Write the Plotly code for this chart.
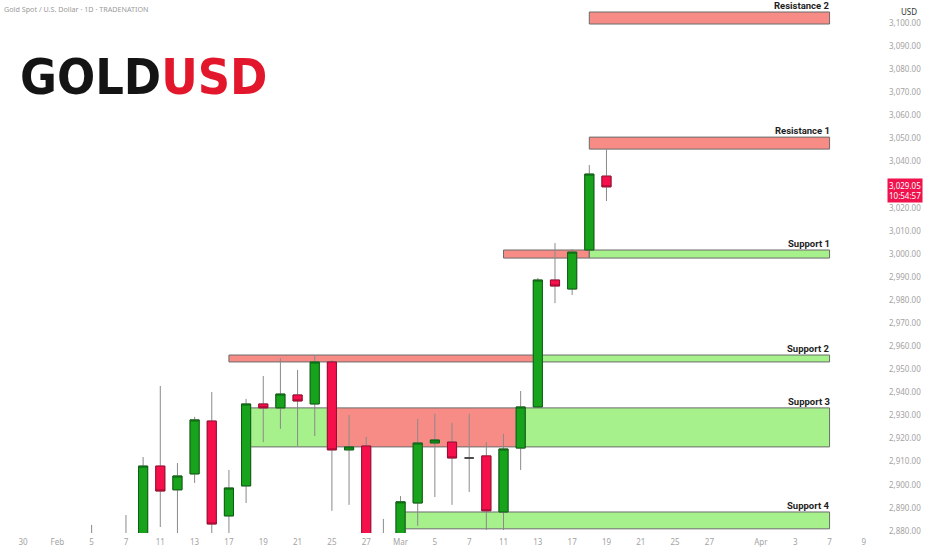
import plotly.graph_objects as go

# ---------------- data ----------------
# trading calendar shown on the time axis
trading_days = [
    "2025-01-30", "2025-01-31", "2025-02-03", "2025-02-04", "2025-02-05", "2025-02-06",
    "2025-02-07", "2025-02-10", "2025-02-11", "2025-02-12", "2025-02-13", "2025-02-14",
    "2025-02-17", "2025-02-18", "2025-02-19", "2025-02-20", "2025-02-21", "2025-02-24",
    "2025-02-25", "2025-02-26", "2025-02-27", "2025-02-28", "2025-03-03", "2025-03-04",
    "2025-03-05", "2025-03-06", "2025-03-07", "2025-03-10", "2025-03-11", "2025-03-12",
    "2025-03-13", "2025-03-14", "2025-03-17", "2025-03-18", "2025-03-19", "2025-03-20",
    "2025-03-21", "2025-03-24", "2025-03-25", "2025-03-26", "2025-03-27", "2025-03-28",
    "2025-03-31", "2025-04-01", "2025-04-02", "2025-04-03", "2025-04-04", "2025-04-07",
    "2025-04-08", "2025-04-09",
]

candle_dates = [
    "2025-02-05", "2025-02-06", "2025-02-07", "2025-02-10", "2025-02-11", "2025-02-12",
    "2025-02-13", "2025-02-14", "2025-02-17", "2025-02-18", "2025-02-19", "2025-02-20",
    "2025-02-21", "2025-02-24", "2025-02-25", "2025-02-26", "2025-02-27", "2025-02-28",
    "2025-03-03", "2025-03-04", "2025-03-05", "2025-03-06", "2025-03-07", "2025-03-10",
    "2025-03-11", "2025-03-12", "2025-03-13", "2025-03-14", "2025-03-17", "2025-03-18",
    "2025-03-19",
]
open_ = [2867.0, 2866.0, 2856.0, 2861.0, 2908.1, 2897.8, 2904.7, 2927.6, 2886.5, 2899.5,
         2935.0, 2933.3, 2938.9, 2935.0, 2953.2, 2915.1, 2916.8, 2876.0, 2858.0, 2892.1,
         2918.1, 2918.5, 2911.6, 2912.5, 2888.2, 2915.9, 2933.7, 2988.7, 2984.8, 3001.7,
         3033.7]
high = [2882.6, 2873.0, 2886.9, 2912.0, 2942.8, 2909.4, 2929.4, 2940.2, 2906.4, 2937.2,
        2947.1, 2954.9, 2949.7, 2956.2, 2954.0, 2930.2, 2920.7, 2885.2, 2895.1, 2928.5,
        2930.7, 2926.8, 2930.7, 2918.5, 2922.0, 2940.6, 2989.6, 3004.7, 3002.1, 3038.5,
        3045.4]
low = [2853.0, 2852.0, 2853.0, 2858.0, 2881.7, 2865.0, 2900.8, 2875.0, 2877.0, 2892.1,
       2918.5, 2924.2, 2916.8, 2921.1, 2888.7, 2891.3, 2870.0, 2832.0, 2854.0, 2882.2,
       2894.7, 2891.3, 2896.9, 2880.4, 2880.4, 2906.4, 2933.3, 2978.7, 2982.2, 3001.7,
       3022.9]
close = [2866.0, 2856.0, 2861.0, 2908.1, 2897.3, 2903.8, 2928.1, 2883.0, 2898.6, 2935.0,
         2933.3, 2939.3, 2936.3, 2953.2, 2915.1, 2916.4, 2875.0, 2858.0, 2892.6, 2918.1,
         2919.4, 2911.6, 2911.6, 2888.7, 2915.5, 2933.7, 2988.7, 2986.1, 3000.8, 3034.6,
         3029.05]

# key zones
zone_names = ["Resistance 2", "Resistance 1", "Support 1", "Support 2", "Support 3", "Support 4"]
zone_low = [3099.6, 3045.4, 2998.2, 2953.2, 2916.4, 2880.9]
zone_high = [3104.8, 3050.6, 3001.7, 2956.2, 2933.3, 2888.2]
# zone segments: zone, start, end, role
seg_zone = ["Resistance 2", "Resistance 1", "Support 1", "Support 1", "Support 2", "Support 2",
            "Support 3", "Support 3", "Support 3", "Support 4"]
seg_start = ["2025-03-18", "2025-03-18", "2025-03-11", "2025-03-18", "2025-02-17", "2025-03-13",
             "2025-02-18", "2025-02-25", "2025-03-12", "2025-03-03"]
seg_end = ["2025-04-07", "2025-04-07", "2025-03-18", "2025-04-07", "2025-03-13", "2025-04-07",
           "2025-02-25", "2025-03-12", "2025-04-07", "2025-04-07"]
seg_role = ["res", "res", "res", "sup", "res", "sup", "sup", "res", "sup", "sup"]

tick_dates = ["2025-01-30", "2025-02-03", "2025-02-05", "2025-02-07", "2025-02-11", "2025-02-13",
              "2025-02-17", "2025-02-19", "2025-02-21", "2025-02-25", "2025-02-27", "2025-03-03",
              "2025-03-05", "2025-03-07", "2025-03-11", "2025-03-13", "2025-03-17", "2025-03-19",
              "2025-03-21", "2025-03-25", "2025-03-27", "2025-04-01", "2025-04-03", "2025-04-07",
              "2025-04-09"]
tick_text = ["30", "Feb", "5", "7", "11", "13", "17", "19", "21", "25", "27", "Mar",
             "5", "7", "11", "13", "17", "19", "21", "25", "27", "Apr", "3", "7", "9"]

price_ticks = [p for p in range(2880, 3101, 10) if p != 3030]
last_price = 3029.05
countdown = "10:54:57"

# ---------------- styling ----------------
GREEN = "#17a31c"
GREEN_EDGE = "#0d5e12"
RED = "#f5104b"
RED_EDGE = "#9e0a30"
WICK = "#8a8a8a"
ZONE_RED = "rgba(244,120,112,0.85)"
ZONE_GREEN = "rgba(150,238,120,0.85)"
ZONE_EDGE = "#6b6b6b"
AXIS_TXT = "#a3a3a3"

pos = {d: i for i, d in enumerate(trading_days)}
xs = [pos[d] for d in candle_dates]

fig = go.Figure()

# wicks (grey) - full candles with grey outline
fig.add_trace(go.Candlestick(
    x=xs, open=open_, high=high, low=low, close=close,
    increasing=dict(line=dict(color=WICK, width=1), fillcolor=GREEN),
    decreasing=dict(line=dict(color=WICK, width=1), fillcolor=RED),
    whiskerwidth=0, hoverinfo="skip", showlegend=False,
))

# bodies with darker borders
reg = [i for i in range(len(xs)) if open_[i] != close[i]]
doji = [i for i in range(len(xs)) if open_[i] == close[i]]
fig.add_trace(go.Candlestick(
    x=[xs[i] for i in reg], open=[open_[i] for i in reg], close=[close[i] for i in reg],
    high=[max(open_[i], close[i]) for i in reg], low=[min(open_[i], close[i]) for i in reg],
    increasing=dict(line=dict(color=GREEN_EDGE, width=1), fillcolor=GREEN),
    decreasing=dict(line=dict(color=RED_EDGE, width=1), fillcolor=RED),
    whiskerwidth=0, hoverinfo="skip", showlegend=False,
))
if doji:
    fig.add_trace(go.Candlestick(
        x=[xs[i] for i in doji], open=[open_[i] for i in doji], close=[close[i] for i in doji],
        high=[open_[i] for i in doji], low=[open_[i] for i in doji],
        increasing=dict(line=dict(color="#333333", width=1.5), fillcolor="#333333"),
        decreasing=dict(line=dict(color="#333333", width=1.5), fillcolor="#333333"),
        whiskerwidth=0, hoverinfo="skip", showlegend=False,
    ))

shapes = []
zlo = dict(zip(zone_names, zone_low))
zhi = dict(zip(zone_names, zone_high))
for z, s, e, r in zip(seg_zone, seg_start, seg_end, seg_role):
    shapes.append(dict(
        type="rect", xref="x", yref="y", x0=pos[s], x1=pos[e], y0=zlo[z], y1=zhi[z],
        fillcolor=ZONE_RED if r == "res" else ZONE_GREEN,
        line=dict(color=ZONE_EDGE, width=1), layer="below",
    ))

annotations = []
for z in zone_names:
    end = max(pos[e] for zz, e in zip(seg_zone, seg_end) if zz == z)
    annotations.append(dict(
        x=end, y=zhi[z], xref="x", yref="y", xanchor="right", yanchor="bottom",
        text=f"<b>{z}</b>", showarrow=False, yshift=-1, xshift=2,
        font=dict(family="Roboto, Arial", size=9.5, color="#1e1e1e"),
    ))

# logo
annotations.append(dict(
    x=0, y=1, xref="paper", yref="paper", xanchor="left", yanchor="middle",
    xshift=18, yshift=-77, showarrow=False,
    text="<b><span style='color:#141414'>GOLD</span><span style='color:#e3172c'>USD</span></b>",
    font=dict(family="DejaVu Sans Condensed, Roboto Condensed, Roboto, sans-serif",
              size=50, color="#141414"),
))
# header
annotations.append(dict(
    x=0, y=1, xref="paper", yref="paper", xanchor="left", yanchor="top",
    xshift=2, yshift=-2, showarrow=False,
    text="Gold Spot / U.S. Dollar · 1D · TRADENATION",
    font=dict(family="Noto Sans", size=7.2, color="#9a9a9a"),
))
# currency label
annotations.append(dict(
    x=1, y=1, xref="paper", yref="paper", xanchor="left", yanchor="top",
    xshift=14, yshift=-4, showarrow=False, text="USD",
    font=dict(family="Noto Sans", size=8, color="#333333"),
))
# last price tag
annotations.append(dict(
    x=1, y=last_price, xref="paper", yref="y", xanchor="left", yanchor="middle",
    xshift=2, yshift=-4, showarrow=False,
    text=f"{last_price:,.2f}<br>{countdown}",
    font=dict(family="Noto Sans", size=8, color="white"),
    bgcolor="#f0124c", borderpad=1, align="center",
))

fig.update_layout(
    width=932, height=550,
    margin=dict(l=0, r=47, t=0, b=17),
    paper_bgcolor="white", plot_bgcolor="white",
    showlegend=False,
    boxgap=0.24,
    shapes=shapes, annotations=annotations,
    xaxis=dict(
        range=[-1.34, 50.23], showgrid=False, zeroline=False, showline=False,
        rangeslider=dict(visible=False),
        tickmode="array", tickvals=[pos[d] for d in tick_dates], ticktext=tick_text,
        ticks="", ticklabelstandoff=3,
        tickfont=dict(family="Noto Sans", size=8, color=AXIS_TXT),
    ),
    yaxis=dict(
        side="right", range=[2879.1, 3110.0], showgrid=False, zeroline=False, showline=False,
        tickmode="array", tickvals=price_ticks, tickformat=",.2f",
        ticks="", ticklabelstandoff=3,
        tickfont=dict(family="Noto Sans", size=8, color=AXIS_TXT),
    ),
)

fig.write_html("out.html", config={"displayModeBar": False},
               post_script="document.body.style.margin='0';")
